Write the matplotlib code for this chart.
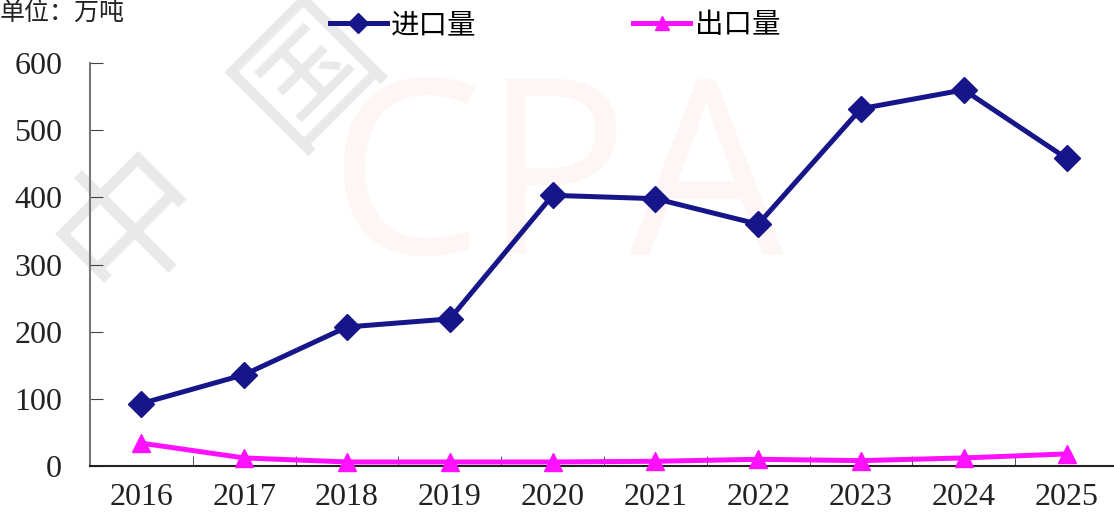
import matplotlib
matplotlib.use("Agg")
import matplotlib.pyplot as plt

years = ["2016", "2017", "2018", "2019", "2020", "2021", "2022", "2023", "2024", "2025"]
imports = [93, 136, 207, 219, 403, 398, 360, 532, 560, 458]
exports = [34, 12, 6, 6, 6, 7, 10, 8, 12, 18]
yticks = [0, 100, 200, 300, 400, 500, 600]

serif = ["Liberation Serif", "Noto Sans CJK SC"]
cjk = ["Noto Sans CJK SC", "DejaVu Sans"]

fig = plt.figure(figsize=(11.14, 5.19), dpi=100)

# watermark (drawn beneath everything)
fig.text(0.118, 0.575, "中", fontsize=105, color="#e9e9e9", rotation=45,
         family=cjk, ha="center", va="center", zorder=-5)
fig.text(0.278, 0.86, "国", fontsize=98, color="#e9e9e9", rotation=45,
         family=cjk, ha="center", va="center", zorder=-5)
fig.text(556/1114, 1 - 190/519, "CPA", fontsize=176, color="#fef5f5",
         family=["Open Sans"], ha="center", va="center", zorder=-5)

ax = fig.add_axes([90/1114, 53/519, 1024/1114, 403/519])
ax.set_zorder(1)
ax.patch.set_alpha(0)
x = list(range(len(years)))
ax.plot(x, imports, color="#16168a", lw=3.6, marker="D", markersize=13,
        label="进口量", zorder=3, clip_on=False)
ax.plot(x, exports, color="#ff10ff", lw=3.6, marker="^", markersize=13,
        label="出口量", zorder=3, clip_on=False)

ax.set_ylim(0, 600)
ax.set_xlim(-0.5, -0.5 + 1024/102.8)
ax.set_yticks(yticks)
ax.set_yticklabels([str(v) for v in yticks], family=serif, fontsize=23, color="#222222")
ax.set_xticks(x)
ax.set_xticklabels(years, family=serif, fontsize=23, color="#222222")
ax.set_xticks([i + 0.5 for i in range(-1, 9)], minor=True)
ax.tick_params(axis="x", which="major", length=0, pad=12)
ax.tick_params(axis="x", which="minor", direction="in", length=7, color="#333333")
ax.tick_params(axis="y", direction="in", length=9, color="#444444", pad=20)

for s in ["top", "right"]:
    ax.spines[s].set_visible(False)
ax.spines["left"].set_color("#777777")
ax.spines["left"].set_linewidth(1.5)
ax.spines["bottom"].set_color("#222222")
ax.spines["bottom"].set_linewidth(1.5)

leg = fig.legend(*ax.get_legend_handles_labels(), loc="center left",
                 bbox_to_anchor=(330/1114, 494/519), ncol=2,
                 frameon=False, prop={"family": cjk, "size": 20.5},
                 columnspacing=5.5, handlelength=2.0, handletextpad=0.15,
                 borderpad=0, borderaxespad=0, markerscale=0.8)
leg.set_zorder(2)

fig.text(0.0, 0.975, "单位：万吨", family=cjk, fontsize=18, color="#222222",
         ha="left", va="center", zorder=2)

fig.savefig("out.png", dpi=100)
